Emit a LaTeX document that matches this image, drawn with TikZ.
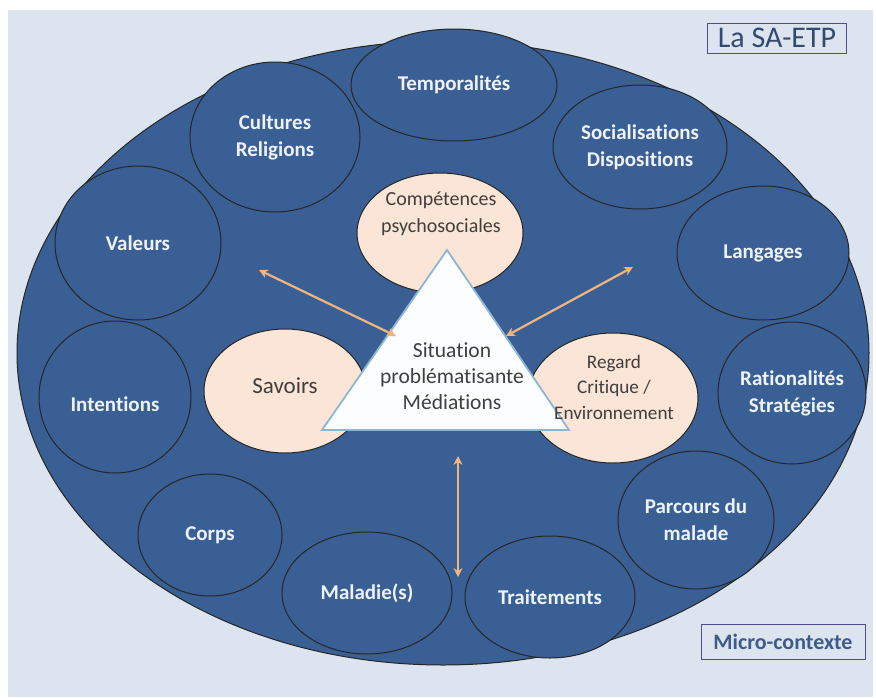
\documentclass[tikz,border=0pt]{standalone}
\usepackage{fontspec}
\setmainfont{Carlito}[Ligatures=NoCommon]
\usetikzlibrary{shapes.geometric,arrows.meta}
\definecolor{panel}{HTML}{DCE4EF}
\definecolor{navy}{HTML}{3A5F94}
\definecolor{peach}{HTML}{FBE5D6}
\definecolor{arrowc}{HTML}{F2B47E}
\definecolor{txtw}{HTML}{EEF3FA}
\definecolor{txtd}{HTML}{3F3F3F}
\definecolor{tribord}{HTML}{8DB6D3}
\definecolor{boxb}{HTML}{4F4F8C}
\definecolor{labt}{HTML}{3E5C89}
\tikzset{
  outerc/.style={ellipse, draw=black!85, line width=1pt, fill=navy, inner sep=0pt,
    text=txtw, font=\fontsize{21}{27}\selectfont\bfseries, align=center},
  innerc/.style={ellipse, draw=black!85, line width=1pt, fill=peach, inner sep=0pt},
  dbl/.style={draw=arrowc, line width=2.2pt, {Stealth[length=9pt,width=9pt]}-{Stealth[length=9pt,width=9pt]}},
  lbox/.style={draw=boxb, line width=1pt, fill=panel, inner sep=0pt, align=center}
}
\begin{document}
\begin{tikzpicture}[x=1pt,y=-1pt]
\useasboundingbox (0,0) rectangle (876,697);
\fill[white] (0,0) rectangle (876,697);
\fill[panel] (8,10) rectangle (873,697);
% big ellipse
\node[ellipse, draw=black!85, line width=1pt, fill=navy, minimum width=852pt, minimum height=624pt, inner sep=0pt] (big) at (443,353) {};
% outer circles
\node[outerc, minimum width=170pt, minimum height=150pt] (cult) at (275,137) {Cultures\\Religions};
\node[outerc, minimum width=174pt, minimum height=124pt] (soc) at (640,147) {Socialisations\\Dispositions};
\node[outerc, minimum width=206pt, minimum height=112pt] (temp) at (454,85) {Temporalités};
\node[outerc, minimum width=166pt, minimum height=154pt] (val) at (138,243) {Valeurs};
\node[outerc, minimum width=172pt, minimum height=134pt] (lang) at (763,253) {Langages};
\node[outerc, minimum width=152pt, minimum height=152pt] (int) at (115,397) {};
\node[text=txtw, font=\fontsize{21}{27}\selectfont\bfseries] (intt) at (115,404) {Intentions};
\node[outerc, minimum width=148pt, minimum height=142pt] (rat) at (792,393) {Rationalités\\Stratégies};
\node[outerc, minimum width=144pt, minimum height=122pt] (corps) at (210,535) {Corps};
\node[outerc, minimum width=156pt, minimum height=138pt] (parc) at (696,520) {Parcours du\\malade};
\node[outerc, minimum width=170pt, minimum height=122pt] (mal) at (367,593) {Maladie(s)};
\node[outerc, minimum width=170pt, minimum height=122pt] (trait) at (550,597) {Traitements};
% inner circles
\node[innerc, minimum width=166pt, minimum height=120pt] (comp) at (440,233) {};
\node[text=txtd, font=\fontsize{20}{27}\selectfont, align=center] (compt) at (441,214) {Compétences\\psychosociales};
\node[innerc, minimum width=162pt, minimum height=124pt] (sav) at (285,391) {};
\node[text=txtd, font=\fontsize{23}{27}\selectfont] (savt) at (285,386) {Savoirs};
\node[innerc, minimum width=170pt, minimum height=130pt] (reg) at (613,398) {};
% triangle
\coordinate (ta) at (447,250);
\coordinate (tl) at (322,430);
\coordinate (tr) at (569,430);
\filldraw[fill=white!92!panel, draw=tribord, line width=1.8pt] (ta) -- (tl) -- (tr) -- cycle;
\node[text=txtd, font=\fontsize{21.5}{26}\selectfont, align=center] (sit) at (452,376) {Situation\\problématisante\\Médiations};
\node[text=txtd, font=\fontsize{19.2}{25.5}\selectfont, align=center] (regt) at (614,387) {Regard\\Critique /\\Environnement};
% arrows
\coordinate (a1s) at (259,270);
\coordinate (a1e) at (396,336);
\coordinate (a2s) at (633,267);
\coordinate (a2e) at (506,336);
\coordinate (a3s) at (458,456);
\coordinate (a3e) at (458,577);
\draw[dbl] (a1s) -- (a1e);
\draw[dbl] (a2s) -- (a2e);
\draw[dbl] (a3s) -- (a3e);
% labels
\node[lbox, minimum width=139pt, minimum height=30pt, text=labt!80!black, font=\fontsize{30}{32}\selectfont] (sa) at (777,38) {La SA-ETP};
\node[lbox, minimum width=164pt, minimum height=35pt, text=labt, font=\fontsize{22}{24}\selectfont\bfseries] (mc) at (783,642) {Micro-contexte};
\end{tikzpicture}
\end{document}
